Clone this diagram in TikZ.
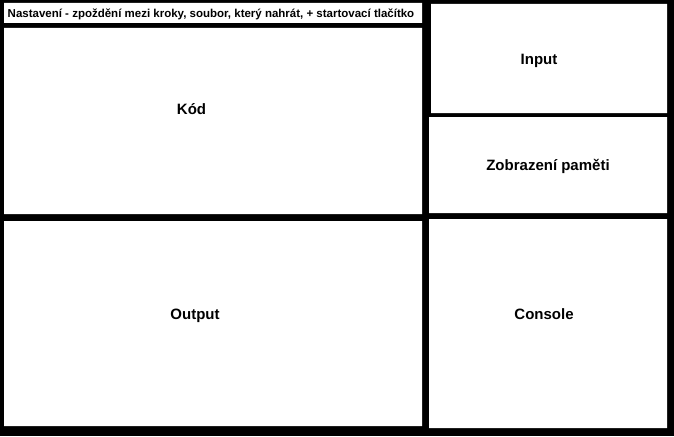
\documentclass[tikz,border=0pt]{standalone}
\usepackage{fontspec}
\setmainfont{Liberation Sans}
\begin{document}
\begin{tikzpicture}[x=1pt,y=-1pt,paneltext/.style={anchor=base,inner sep=0pt,font=\bfseries\fontsize{15}{18}\selectfont}]
\useasboundingbox (0,0) rectangle (674,436);
\fill[black] (0,0) rectangle (674,436);
% panels
\fill[white] (4,3) rectangle (422,23) (4,28) rectangle (422,214) (4,221) rectangle (422,426)
  (431,4) rectangle (667,113) (429,117) rectangle (667,213) (429,219) rectangle (667,428);
\node (nastaveni) at (211,17.5) [paneltext,font=\bfseries\fontsize{11.5}{13}\selectfont]{Nastavení - zpoždění mezi kroky, soubor, který nahrát, + startovací tlačítko};
\node (kod) at (191.5,114) [paneltext]{Kód};
\node (output) at (195,319) [paneltext]{Output};
\node (input) at (539,64.5) [paneltext]{Input};
\node (pamet) at (548,170) [paneltext]{Zobrazení paměti};
\node (console) at (544,319) [paneltext]{Console};
\end{tikzpicture}
\end{document}
